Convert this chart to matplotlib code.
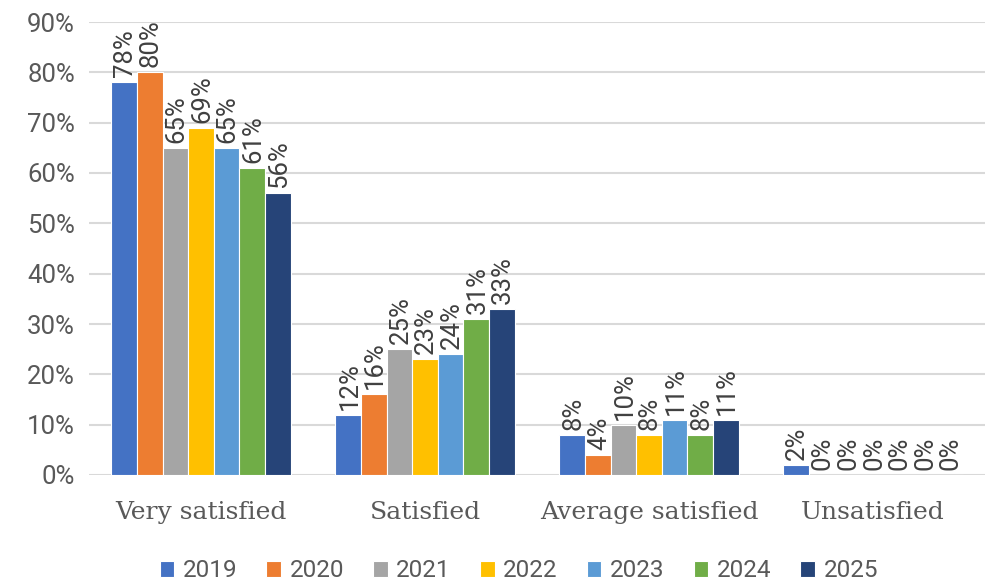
import matplotlib.pyplot as plt
import numpy as np

plt.rcParams['font.family'] = ['Roboto', 'DejaVu Sans']

categories = ["Very satisfied", "Satisfied", "Average satisfied", "Unsatisfied"]
years = ["2019", "2020", "2021", "2022", "2023", "2024", "2025"]
v2019 = [78, 12, 8, 2]
v2020 = [80, 16, 4, 0]
v2021 = [65, 25, 10, 0]
v2022 = [69, 23, 8, 0]
v2023 = [65, 24, 11, 0]
v2024 = [61, 31, 8, 0]
v2025 = [56, 33, 11, 0]
values = [v2019, v2020, v2021, v2022, v2023, v2024, v2025]
colors = ["#4472C4", "#ED7D31", "#A5A5A5", "#FFC000", "#5B9BD5", "#70AD47", "#264478"]

fig = plt.figure(figsize=(9.88, 5.81), dpi=100)
ax = fig.add_axes([89 / 988, 1 - 475 / 581, (985 - 89) / 988, (475 - 22) / 581])

x = np.arange(len(categories))
n = len(years)
w = 0.8 / n
for i, (yr, vals, c) in enumerate(zip(years, values, colors)):
    pos = x - 0.4 + w * (i + 0.5)
    ax.bar(pos, vals, w, color=c, edgecolor="white", linewidth=0.8, label=yr, zorder=3)
    for p, v in zip(pos, vals):
        ax.text(p + 0.005, v + 1.0, f"{v}%", rotation=90, ha="center", va="bottom",
                fontsize=18.5, color="#404040", zorder=4)

ax.set_ylim(0, 90)
ax.set_xlim(-0.5, len(categories) - 0.5)
ax.set_yticks(range(0, 91, 10))
ax.set_yticklabels([f"{t}%" for t in range(0, 91, 10)], fontsize=18.5, color="#595959")
ax.set_xticks(x)
ax.set_xticklabels(categories, fontsize=18, color="#595959", family="DejaVu Serif")
ax.tick_params(length=0, pad=10)
ax.tick_params(axis="x", pad=19)
ax.grid(axis="y", color="#D9D9D9", linewidth=1.5, zorder=0)
for s in ax.spines.values():
    s.set_visible(False)

fig.legend(loc="lower center", ncol=n, bbox_to_anchor=(0.525, -0.04), frameon=False,
           fontsize=17.5, handlelength=0.6, handleheight=0.6, handletextpad=0.35,
           columnspacing=1.2, labelcolor="#595959")

fig.savefig("out.png", dpi=100)
